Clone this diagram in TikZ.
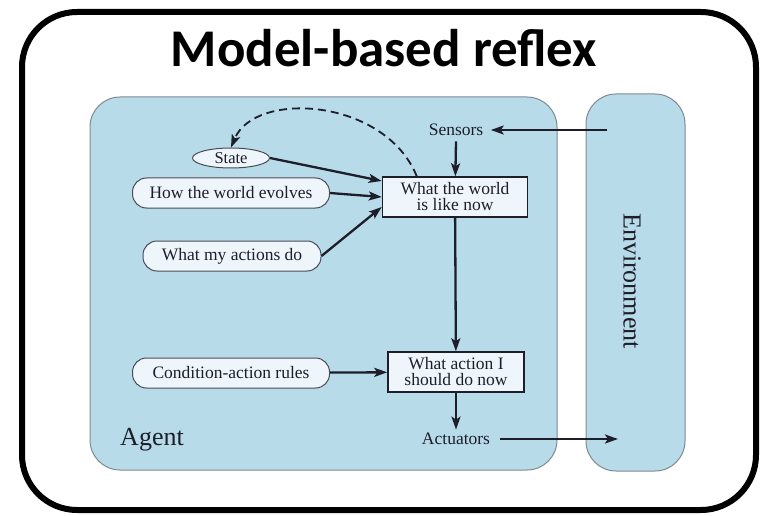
\documentclass[tikz,border=0pt]{standalone}
\usepackage{fontspec}
\setmainfont{Liberation Serif}
\newfontfamily\titlefont{Carlito}
\usetikzlibrary{arrows.meta,shapes.geometric}
\definecolor{panelblue}{HTML}{B8DBEA}
\definecolor{paneledge}{HTML}{7E8A90}
\definecolor{boxfill}{HTML}{EEF6FC}
\definecolor{inkdark}{HTML}{1E1E2A}
\tikzset{
  panel/.style={fill=panelblue, draw=paneledge, line width=1pt, rounded corners=30pt},
  pill/.style={draw=inkdark!80, fill=boxfill, line width=1pt, rounded corners=14pt,
    minimum height=30pt, inner xsep=14pt, font=\fontsize{17.5}{19}\selectfont, text=inkdark},
  oval/.style={draw=inkdark!80, fill=boxfill, line width=1pt, ellipse,
    minimum width=77pt, minimum height=20pt, inner sep=0pt, font=\fontsize{16.5}{18}\selectfont, text=inkdark},
  rule/.style={draw=inkdark, fill=boxfill, line width=1.5pt, align=center,
    inner xsep=6pt, inner ysep=3pt, font=\fontsize{17.5}{19}\selectfont, text=inkdark},
  plain/.style={font=\fontsize{17.5}{19}\selectfont, text=inkdark},
  flow/.style={-{Stealth[length=13pt,width=9pt,inset=3pt]}, line width=2.3pt, draw=inkdark},
}
\begin{document}
\begin{tikzpicture}[x=1pt,y=-1pt]
\useasboundingbox (0,0) rectangle (766,516);
% outer frame
\draw[line width=6pt, rounded corners=55pt] (22,12) rectangle (756,510);
\node[font=\titlefont\bfseries\fontsize{53}{60}\selectfont] (title) at (384,48) {Model-based reflex};
% agent and environment panels
\draw[panel] (90,97) rectangle (557,470);
\draw[panel] (586,94) rectangle (685,471);
\node[rotate=-90, font=\fontsize{26}{30}\selectfont, text=inkdark] (env) at (632,281) {Environment};
\node[font=\fontsize{26}{30}\selectfont, text=inkdark] (agent) at (152,440) {Agent};
% components
\node[plain] (sensors) at (456,130) {Sensors};
\node[plain] (actuators) at (456,439) {Actuators};
\node[oval] (state) at (231,158) {State};
\node[pill, minimum width=197pt] (evolves) at (231,193) {How the world evolves};
\node[pill, minimum width=178pt] (actions) at (232,256) {What my actions do};
\node[pill, minimum width=197pt] (rules) at (231,373) {Condition-action rules};
\node[rule, minimum width=145pt, minimum height=40pt] (world) at (455,197) {What the world\\[-3pt]is like now};
\node[rule, minimum width=136pt, minimum height=40pt] (action) at (456,372) {What action I\\[-3pt]should do now};
\coordinate (envin) at (607,130);
\coordinate (envout) at (618,439);
% connectors
\draw[flow] (envin) -- ([xshift=4pt]sensors.east);
\draw[flow] ([yshift=-2pt]sensors.south) -- (world);
\draw[flow] (state.east) -- ([yshift=16pt]world.west);
\draw[flow] (evolves.east) -- (world.west);
\draw[flow] (actions.east) -- ([yshift=-10pt]world.west);
\draw[flow] (world) -- (action);
\draw[flow] (rules) -- (action);
\draw[flow] (action) -- (actuators);
\draw[flow] ([xshift=6pt]actuators.east) -- (envout);
\draw[flow, dash pattern=on 8pt off 5pt, line width=1.8pt]
  ([xshift=35pt]world.north west) .. controls (385,98) and (255,90) .. (state.north);
\end{tikzpicture}
\end{document}
